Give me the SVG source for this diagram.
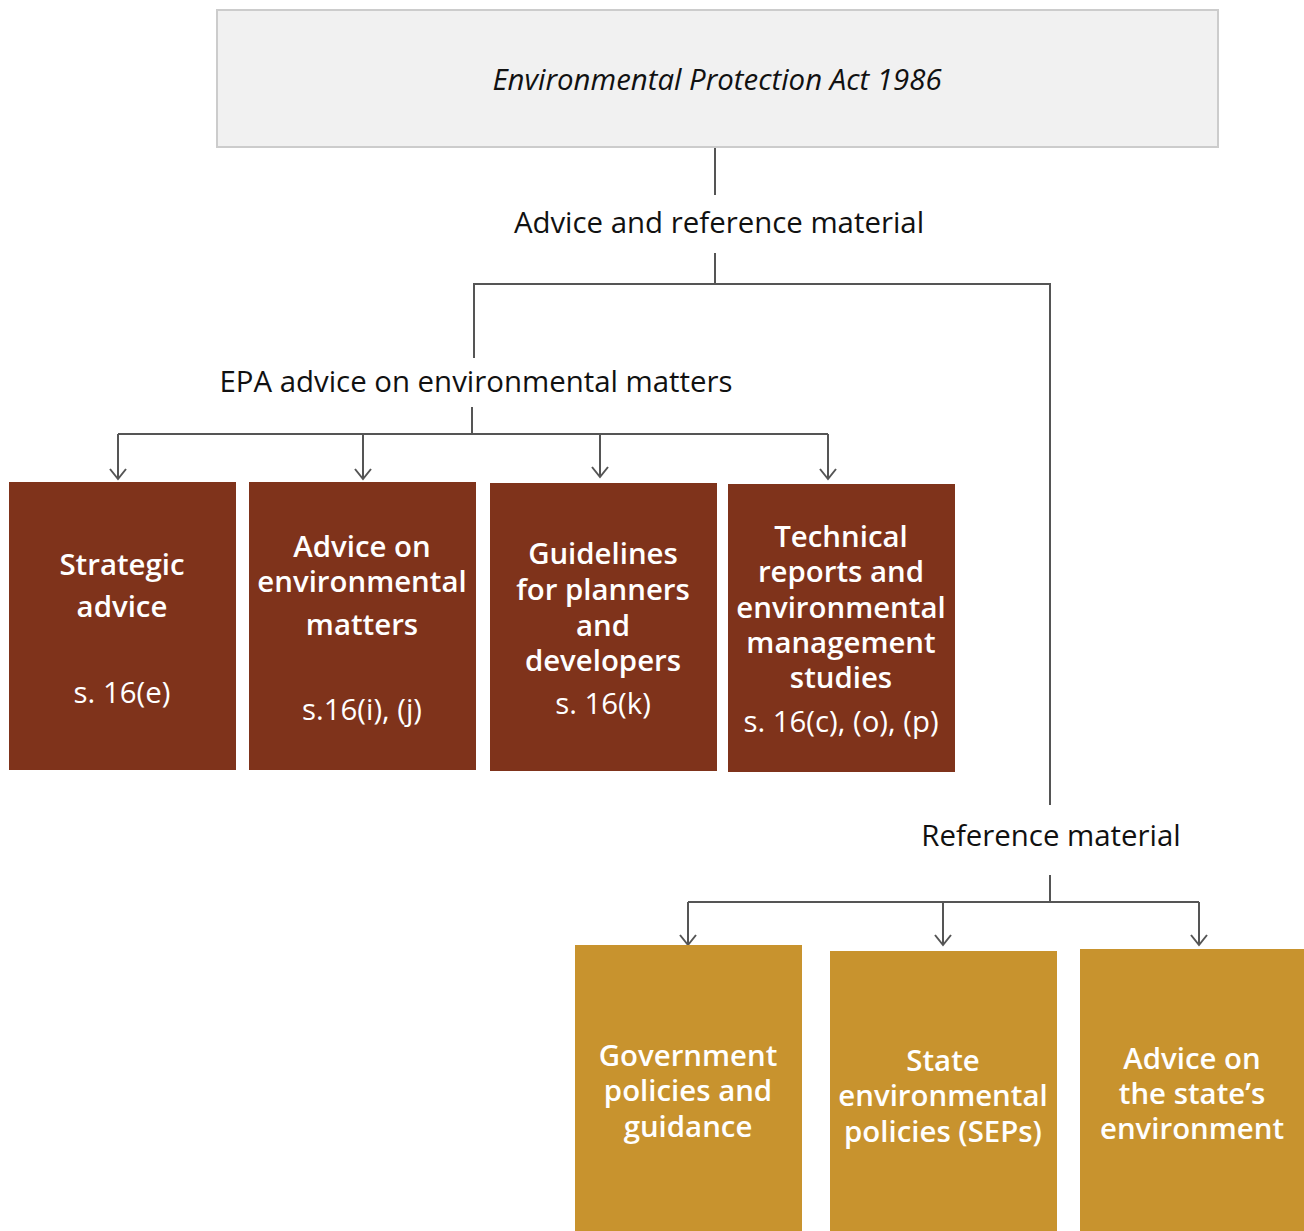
<svg xmlns="http://www.w3.org/2000/svg" width="1304" height="1231" viewBox="0 0 1304 1231">
<style>
.lbl{font-family:"Open Sans","Liberation Sans",sans-serif;font-size:29.4px;fill:#111;text-anchor:middle}
.nt{font-family:"Open Sans","Liberation Sans",sans-serif;font-size:29.4px;font-weight:600;fill:#fff;text-anchor:middle}
.ns{font-family:"Open Sans","Liberation Sans",sans-serif;font-size:29.4px;font-weight:500;fill:#fff;text-anchor:middle}
.brown{fill:#7f331b}
.gold{fill:#c8932e}
.ln{stroke:#555;stroke-width:2;fill:none}
</style>
<defs>
<marker id="arr" viewBox="0 0 14 20" refX="12" refY="10" markerWidth="14" markerHeight="20" markerUnits="userSpaceOnUse" orient="auto">
<polyline points="2,2 12,10 2,18" fill="none" stroke="#555" stroke-width="2"/>
</marker>
</defs>
<g id="act">
<rect x="217" y="10" width="1001" height="137" fill="#f1f1f1" stroke="#cccccc" stroke-width="2"/>
<text class="lbl" x="717" y="90" font-style="italic">Environmental Protection Act 1986</text>
</g>
<g id="label-advice-ref"><text class="lbl" x="719" y="233">Advice and reference material</text></g>
<g id="label-epa"><text class="lbl" x="476" y="392">EPA advice on environmental matters</text></g>
<g id="label-ref"><text class="lbl" x="1051" y="846">Reference material</text></g>
<g id="connectors">
<path class="ln" stroke="#999" d="M715,148 V195"/>
<path class="ln" d="M715,253 V284 M474,358 V284 H1050 V805"/>
<path class="ln" d="M472,407 V434 M118,434 H828"/>
<path class="ln" marker-end="url(#arr)" d="M118,434 V479"/>
<path class="ln" marker-end="url(#arr)" d="M363,434 V479"/>
<path class="ln" marker-end="url(#arr)" d="M600,434 V477"/>
<path class="ln" marker-end="url(#arr)" d="M828,434 V479"/>
<path class="ln" d="M1050,875 V902 M688,902 H1199"/>
<path class="ln" marker-end="url(#arr)" d="M688,902 V945"/>
<path class="ln" marker-end="url(#arr)" d="M943,902 V945"/>
<path class="ln" marker-end="url(#arr)" d="M1199,902 V945"/>
</g>
<g id="strategic">
<rect class="brown" x="9" y="482" width="227" height="288"/>
<text class="nt" x="122" y="575">Strategic</text>
<text class="nt" x="122" y="617">advice</text>
<text class="ns" x="122" y="703">s. 16(e)</text>
</g>
<g id="advice-env">
<rect class="brown" x="249" y="482" width="227" height="288"/>
<text class="nt" x="362" y="557">Advice on</text>
<text class="nt" x="362" y="592">environmental</text>
<text class="nt" x="362" y="635">matters</text>
<text class="ns" x="362" y="720">s.16(i), (j)</text>
</g>
<g id="guidelines">
<rect class="brown" x="490" y="483" width="227" height="288"/>
<text class="nt" x="603" y="564">Guidelines</text>
<text class="nt" x="603" y="600">for planners</text>
<text class="nt" x="603" y="636">and</text>
<text class="nt" x="603" y="671">developers</text>
<text class="ns" x="603" y="714">s. 16(k)</text>
</g>
<g id="technical">
<rect class="brown" x="728" y="484" width="227" height="288"/>
<text class="nt" x="841" y="547">Technical</text>
<text class="nt" x="841" y="582">reports and</text>
<text class="nt" x="841" y="618">environmental</text>
<text class="nt" x="841" y="653">management</text>
<text class="nt" x="841" y="688">studies</text>
<text class="ns" x="841" y="732">s. 16(c), (o), (p)</text>
</g>
<g id="gov-policies">
<rect class="gold" x="575" y="945" width="227" height="286"/>
<text class="nt" x="688" y="1066">Government</text>
<text class="nt" x="688" y="1101">policies and</text>
<text class="nt" x="688" y="1137">guidance</text>
</g>
<g id="seps">
<rect class="gold" x="830" y="951" width="227" height="280"/>
<text class="nt" x="943" y="1071">State</text>
<text class="nt" x="943" y="1106">environmental</text>
<text class="nt" x="943" y="1142">policies (SEPs)</text>
</g>
<g id="state-env">
<rect class="gold" x="1080" y="949" width="224" height="282"/>
<text class="nt" x="1192" y="1069">Advice on</text>
<text class="nt" x="1192" y="1104">the state’s</text>
<text class="nt" x="1192" y="1139">environment</text>
</g>
</svg>
